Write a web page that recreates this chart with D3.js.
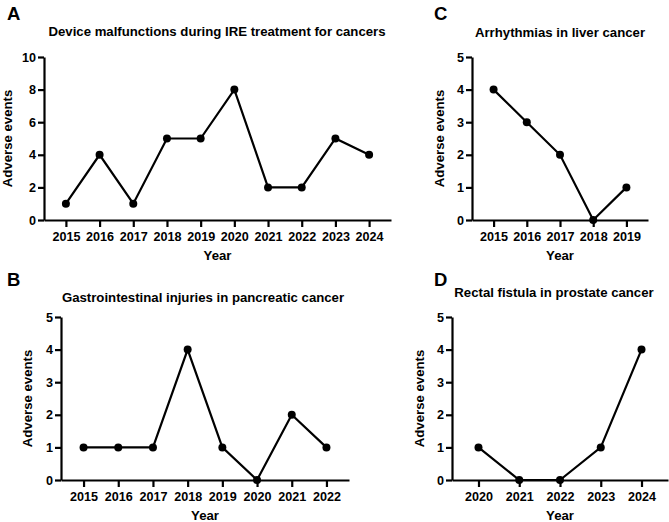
<!DOCTYPE html>
<html>
<head>
	<meta charset="utf-8">
	<title>IRE adverse events</title>
	<script src="https://d3js.org/d3.v7.min.js"></script>
	<style>
		body { margin: 0; background: #fff; }
		text { font-family: "Liberation Sans", Arial, sans-serif; font-weight: bold; }
	</style>
</head>
<body>
</body>
<script>
	// panel A
	var yearsA = [2015, 2016, 2017, 2018, 2019, 2020, 2021, 2022, 2023, 2024];
	var eventsA = [1, 4, 1, 5, 5, 8, 2, 2, 5, 4];
	var yTicksA = [0, 2, 4, 6, 8, 10];
	// panel B
	var yearsB = [2015, 2016, 2017, 2018, 2019, 2020, 2021, 2022];
	var eventsB = [1, 1, 1, 4, 1, 0, 2, 1];
	// panel C
	var yearsC = [2015, 2016, 2017, 2018, 2019];
	var eventsC = [4, 3, 2, 0, 1];
	// panel D
	var yearsD = [2020, 2021, 2022, 2023, 2024];
	var eventsD = [1, 0, 0, 1, 4];
	var yTicksSmall = [0, 1, 2, 3, 4, 5];

	var titles = {
		A: "Device malfunctions during IRE treatment for cancers",
		B: "Gastrointestinal injuries in pancreatic cancer",
		C: "Arrhythmias in liver cancer",
		D: "Rectal fistula in prostate cancer"
	};

	var svg = d3.select("body").append("svg").attr("width", 669).attr("height", 522);

	function panel(opt) {
		var years = opt.years, vals = opt.vals;
		var pad = 0.65;
		var x = d3.scaleLinear().domain([years[0] - pad, years[years.length - 1] + pad]).range([opt.x0, opt.x1]);
		var y = d3.scaleLinear().domain([0, opt.ymax]).range([opt.y1, opt.y0]);

		var g = svg.append("g");

		var xAxisG = g.append("g").attr("transform", "translate(0," + opt.y1 + ")")
			.call(d3.axisBottom(x).tickValues(years).tickFormat(d3.format("d")).tickSize(7).tickSizeOuter(0).tickPadding(5));
		var yAxisG = g.append("g").attr("transform", "translate(" + opt.x0 + ",0)")
			.call(d3.axisLeft(y).tickValues(opt.yticks).tickFormat(d3.format("d")).tickSize(6).tickSizeOuter(0).tickPadding(2));

		[xAxisG, yAxisG].forEach(function(a) {
			a.select(".domain").attr("stroke", "#000").attr("stroke-width", 2.2);
			a.selectAll(".tick line").attr("stroke", "#000").attr("stroke-width", 2.2);
			a.selectAll(".tick text").attr("fill", "#000").style("font-size", "12.6px").style("font-family", "Liberation Sans, Arial, sans-serif").style("font-weight", "bold");
		});

		var line = d3.line().x(function(d, i) { return x(years[i]); }).y(function(d) { return y(d); });
		g.append("path").datum(vals).attr("d", line).attr("fill", "none").attr("stroke", "#000").attr("stroke-width", 2.2);

		g.selectAll("circle").data(vals).enter().append("circle")
			.attr("cx", function(d, i) { return x(years[i]); })
			.attr("cy", function(d) { return y(d); })
			.attr("r", 4).attr("fill", "#000");

		g.append("text").attr("x", opt.titleX).attr("y", opt.titleY)
			.attr("text-anchor", "middle").style("font-size", "13.2px").text(opt.title);

		g.append("text").attr("x", (opt.x0 + opt.x1) / 2).attr("y", opt.y1 + 40)
			.attr("text-anchor", "middle").style("font-size", "13.2px").text("Year");

		g.append("text").attr("transform", "translate(" + opt.ylabX + "," + ((opt.y0 + opt.y1) / 2) + ") rotate(-90)")
			.attr("text-anchor", "middle").style("font-size", "13.2px").text("Adverse events");

		g.append("text").attr("x", opt.letterX).attr("y", opt.letterY)
			.style("font-size", "18.5px").text(opt.letter);
	}

	panel({ letter: "A", title: titles.A, years: yearsA, vals: eventsA, ymax: 10, yticks: yTicksA,
		x0: 44, x1: 391, y0: 57, y1: 220, titleX: 217, titleY: 36, ylabX: 12, letterX: 7, letterY: 20 });
	panel({ letter: "C", title: titles.C, years: yearsC, vals: eventsC, ymax: 5, yticks: yTicksSmall,
		x0: 472, x1: 648, y0: 57, y1: 220, titleX: 560, titleY: 37, ylabX: 444, letterX: 434, letterY: 20 });
	panel({ letter: "B", title: titles.B, years: yearsB, vals: eventsB, ymax: 5, yticks: yTicksSmall,
		x0: 61, x1: 349, y0: 317, y1: 480, titleX: 203, titleY: 302, ylabX: 32, letterX: 7, letterY: 286 });
	panel({ letter: "D", title: titles.D, years: yearsD, vals: eventsD, ymax: 5, yticks: yTicksSmall,
		x0: 452, x1: 668, y0: 317, y1: 480, titleX: 554, titleY: 297, ylabX: 424, letterX: 434, letterY: 286 });
</script>
</html>
